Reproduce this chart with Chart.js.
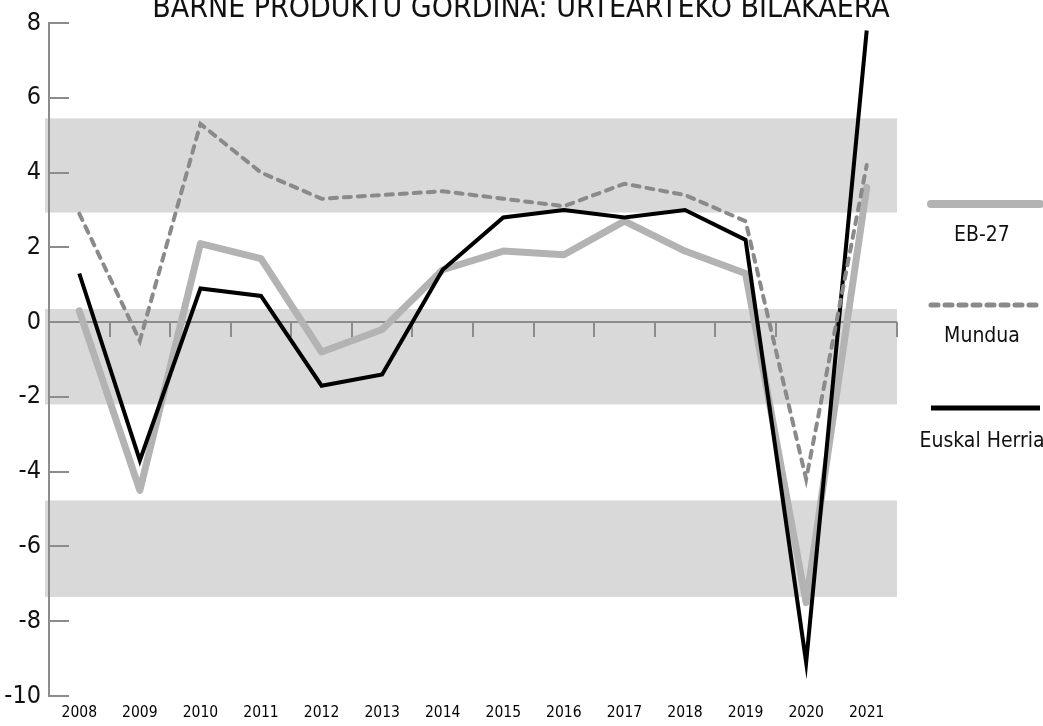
<!DOCTYPE html>
<html>
<head>
<meta charset="utf-8">
<script src="https://cdn.jsdelivr.net/npm/chart.js@4/dist/chart.umd.min.js"></script>
<style>
  html, body { margin: 0; padding: 0; background: #fff; }
  #wrap { width: 1043px; height: 726px; position: relative; }
</style>
</head>
<body>
<div id="wrap"><canvas id="gdpChart" width="1043" height="726"></canvas></div>
<script>
// Data
const chartTitle = 'BARNE PRODUKTU GORDINA: URTEARTEKO BILAKAERA';
const years = ['2008', '2009', '2010', '2011', '2012', '2013', '2014', '2015', '2016', '2017', '2018', '2019', '2020', '2021'];
const eb27 = [0.3, -4.5, 2.1, 1.7, -0.8, -0.2, 1.4, 1.9, 1.8, 2.7, 1.9, 1.3, -7.5, 3.6];
const mundua = [2.9, -0.5, 5.3, 4.0, 3.3, 3.4, 3.5, 3.3, 3.1, 3.7, 3.4, 2.7, -4.2, 4.2];
const euskalHerria = [1.3, -3.7, 0.9, 0.7, -1.7, -1.4, 1.4, 2.8, 3.0, 2.8, 3.0, 2.2, -9.1, 7.8];
const yTicks = [8, 6, 4, 2, 0, -2, -4, -6, -8, -10];
const bands = [[5.45, 2.93], [0.35, -2.2], [-4.77, -7.35]];

const AXIS_GREY = '#8c8c8c';
const COND = '"DejaVu Sans Condensed", "Liberation Sans Narrow", sans-serif';

// grey bands behind everything
const bandsPlugin = {
  id: 'bands',
  beforeDraw(chart) {
    const { ctx, chartArea: a, scales: { y } } = chart;
    ctx.save();
    ctx.fillStyle = '#d9d9d9';
    bands.forEach(([hi, lo]) => {
      const t = y.getPixelForValue(hi), b = y.getPixelForValue(lo);
      ctx.fillRect(a.left - 4, t, a.right - a.left + 4, b - t);
    });
    ctx.restore();
  }
};

// inward y ticks, zero line and its tick marks
const axisMarks = {
  id: 'axisMarks',
  beforeDatasetsDraw(chart) {
    const { ctx, chartArea: a, scales: { x, y } } = chart;
    ctx.save();
    ctx.strokeStyle = AXIS_GREY;
    ctx.lineWidth = 2;
    ctx.beginPath();
    yTicks.forEach(v => {
      const py = Math.round(y.getPixelForValue(v));
      ctx.moveTo(a.left, py); ctx.lineTo(a.left + 20, py);
    });
    const y0 = Math.round(y.getPixelForValue(0));
    ctx.moveTo(a.left, y0); ctx.lineTo(a.right, y0);
    for (let i = 0; i < years.length; i++) {
      const px = i < years.length - 1 ? (x.getPixelForValue(i) + x.getPixelForValue(i + 1)) / 2 : a.right;
      ctx.moveTo(Math.round(px), y0); ctx.lineTo(Math.round(px), y0 + 15);
    }
    ctx.stroke();
    ctx.restore();
  }
};

// title (cut at the top like the original) and stacked legend on the right
const decor = {
  id: 'decor',
  afterDraw(chart) {
    const { ctx } = chart;
    ctx.save();
    ctx.fillStyle = '#111';
    ctx.font = '30px ' + COND;
    ctx.textAlign = 'center';
    ctx.textBaseline = 'alphabetic';
    ctx.fillText(chartTitle, 521, 17);

    const slots = [{ y: 204, ty: 236 }, { y: 305, ty: 337 }, { y: 408, ty: 442 }];
    ctx.font = '21px ' + COND;
    ctx.textBaseline = 'middle';
    chart.data.datasets.forEach((ds, i) => {
      const s = slots[i];
      ctx.beginPath();
      ctx.strokeStyle = ds.borderColor;
      ctx.lineWidth = ds.borderWidth + 1;
      ctx.lineCap = ds.borderCapStyle || 'butt';
      ctx.setLineDash(ds.borderDash || []);
      ctx.moveTo(931, s.y); ctx.lineTo(1040, s.y);
      ctx.stroke();
      ctx.setLineDash([]);
      ctx.fillText(ds.label, 982, s.ty);
    });
    ctx.restore();
  }
};

new Chart(document.getElementById('gdpChart'), {
  type: 'line',
  data: {
    labels: years,
    datasets: [
      { label: 'EB-27', data: eb27, borderColor: '#b3b3b3', borderWidth: 7, borderCapStyle: 'round', borderJoinStyle: 'round', order: 3 },
      { label: 'Mundua', data: mundua, borderColor: '#8a8a8a', borderWidth: 4, borderDash: [7, 7], borderCapStyle: 'round', order: 1 },
      { label: 'Euskal Herria', data: euskalHerria, borderColor: '#000', borderWidth: 4, order: 2 }
    ]
  },
  options: {
    responsive: false,
    animation: false,
    devicePixelRatio: 1,
    layout: { padding: { top: 21, right: 146, left: 0, bottom: 0 } },
    elements: { point: { radius: 0 }, line: { tension: 0 } },
    plugins: { legend: { display: false }, title: { display: false }, tooltip: { enabled: false } },
    scales: {
      x: {
        offset: true,
        grid: { display: false, drawTicks: false },
        border: { display: false },
        ticks: { color: '#000', font: { family: COND, size: 15.5 }, padding: 8, maxRotation: 0, autoSkip: false },
        afterFit: s => { s.height = 30; }
      },
      y: {
        min: -10, max: 8,
        afterBuildTicks: s => { s.ticks = yTicks.map(v => ({ value: v })); },
        grid: { display: false, drawTicks: false },
        border: { display: true, color: AXIS_GREY, width: 2 },
        ticks: { color: '#111', font: { family: COND, size: 25 }, padding: 8 },
        afterFit: s => { s.width = 49; }
      }
    }
  },
  plugins: [bandsPlugin, axisMarks, decor]
});
</script>
</body>
</html>
